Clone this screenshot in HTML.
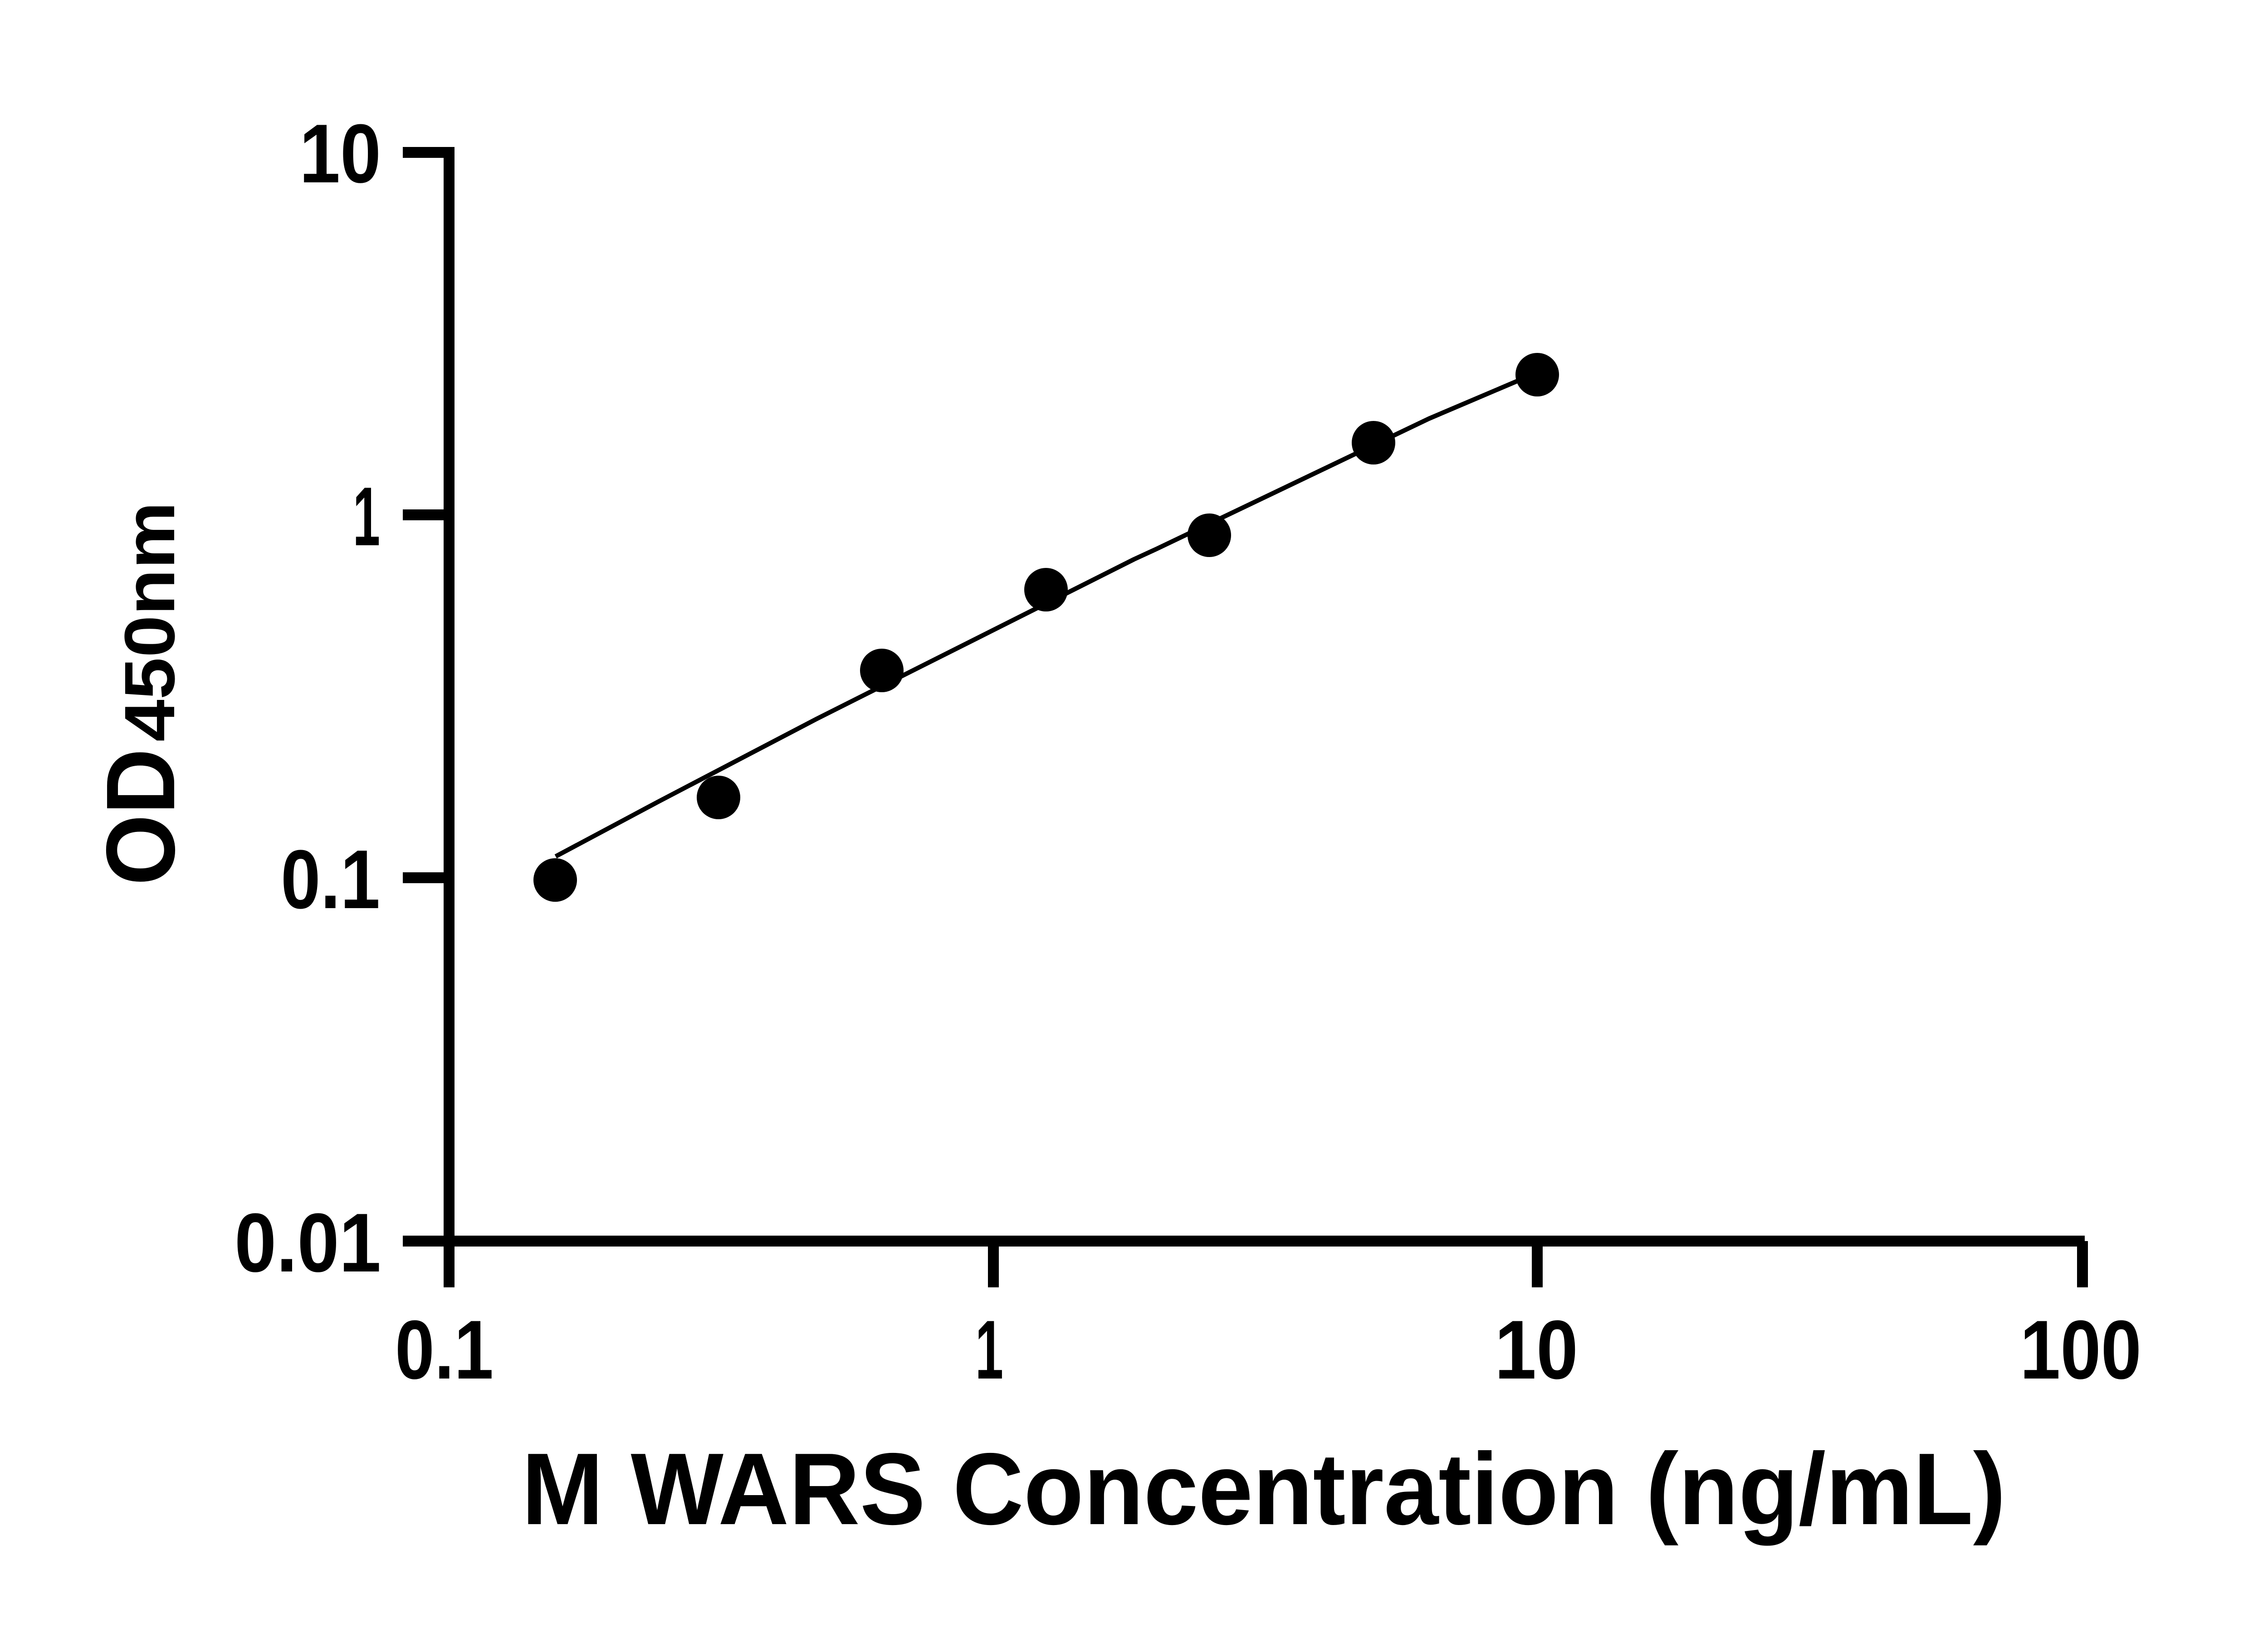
<!DOCTYPE html>
<html><head><meta charset="utf-8"><style>
html,body{margin:0;padding:0;background:#fff;}
svg{display:block;}
text{font-family:"Liberation Sans",sans-serif;font-weight:bold;fill:#000;}
</style></head><body>
<svg width="5142" height="3600" viewBox="0 0 5142 3600" xmlns="http://www.w3.org/2000/svg">
<g stroke="#000" stroke-width="24" fill="none" stroke-linecap="butt">
<line x1="990" y1="324" x2="990" y2="2838"/>
<line x1="888" y1="2736" x2="4596" y2="2736"/>
<line x1="888" y1="336" x2="1002" y2="336"/>
<line x1="888" y1="1135" x2="990" y2="1135"/>
<line x1="888" y1="1935" x2="990" y2="1935"/>
<line x1="2190" y1="2736" x2="2190" y2="2838"/>
<line x1="3389" y1="2736" x2="3389" y2="2838"/>
<line x1="4591" y1="2736" x2="4591" y2="2838"/>
</g>
<polyline fill="none" stroke="#000" stroke-width="10" stroke-linejoin="round" points="1225,1888 1450,1768 1800,1585 2500,1233 2550,1210 3150,923 3345,840"/>
<g fill="#000">
<circle cx="1224" cy="1940" r="48"/>
<circle cx="1584" cy="1758" r="48"/>
<circle cx="1944" cy="1478" r="48"/>
<circle cx="2306" cy="1300" r="48"/>
<circle cx="2666" cy="1180" r="48"/>
<circle cx="3028" cy="976" r="48"/>
<circle cx="3389" cy="826" r="48"/>
</g>
<g font-size="184">
<text x="660" y="402" textLength="180" lengthAdjust="spacingAndGlyphs">10</text>
<text x="778" y="1202" textLength="60" lengthAdjust="spacingAndGlyphs">1</text>
<text x="619" y="2002" textLength="219" lengthAdjust="spacingAndGlyphs">0.1</text>
<text x="517" y="2803" textLength="323" lengthAdjust="spacingAndGlyphs">0.01</text>
</g>
<g font-size="184">
<text x="871" y="3039" textLength="217" lengthAdjust="spacingAndGlyphs">0.1</text>
<text x="2150" y="3039" textLength="62" lengthAdjust="spacingAndGlyphs">1</text>
<text x="3295" y="3039" textLength="184" lengthAdjust="spacingAndGlyphs">10</text>
<text x="4453" y="3039" textLength="268" lengthAdjust="spacingAndGlyphs">100</text>
</g>
<text x="1150" y="3360" font-size="225" textLength="3272" lengthAdjust="spacingAndGlyphs">M WARS Concentration (ng/mL)</text>
<g transform="translate(384,1952) rotate(-90)">
<text x="0" y="0" font-size="215" textLength="302" lengthAdjust="spacingAndGlyphs">OD</text>
<text x="317" y="0" font-size="157" textLength="529" lengthAdjust="spacingAndGlyphs">450nm</text>
</g>
</svg>
</body></html>
